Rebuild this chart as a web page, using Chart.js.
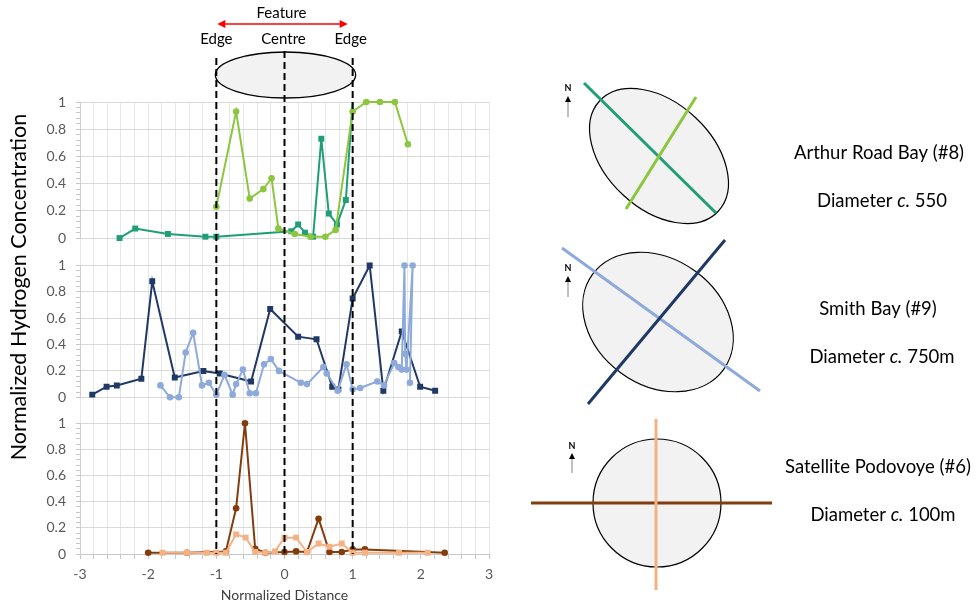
<!DOCTYPE html>
<html>
<head>
<meta charset="utf-8">
<script src="https://cdn.jsdelivr.net/npm/chart.js@4.4.0/dist/chart.umd.min.js"></script>
<style>
  html, body { margin: 0; padding: 0; background: #fff; }
  #wrap { position: relative; width: 980px; height: 605px; }
</style>
</head>
<body>
<div id="wrap"><canvas id="chart"></canvas></div>
<script>
// ---- data (normalized distance / normalized H2) ----
// Arthur Road Bay (#8)
const arthurDarkX  = [-2.42, -2.19, -1.71, -1.16, -1.0, 0.10, 0.20, 0.30, 0.42, 0.54, 0.65, 0.77, 0.90, 1.0];
const arthurDarkY  = [0.00, 0.07, 0.03, 0.01, 0.01, 0.05, 0.10, 0.04, 0.01, 0.73, 0.18, 0.10, 0.28, 1.0];
const arthurLightX = [-1.0, -0.71, -0.51, -0.31, -0.19, -0.09, 0.15, 0.38, 0.60, 0.75, 1.0, 1.2, 1.4, 1.62, 1.81];
const arthurLightY = [0.23, 0.93, 0.29, 0.36, 0.44, 0.07, 0.03, 0.01, 0.01, 0.06, 0.93, 1.0, 1.0, 1.0, 0.69];

// Smith Bay (#9)
const smithDarkX  = [-2.82, -2.61, -2.46, -2.10, -1.94, -1.61, -1.19, -0.95, -0.49, -0.21, 0.20, 0.47, 0.70, 0.79, 1.0, 1.25, 1.45, 1.72, 1.99, 2.21];
const smithDarkY  = [0.02, 0.08, 0.09, 0.14, 0.88, 0.15, 0.20, 0.18, 0.12, 0.67, 0.46, 0.44, 0.08, 0.06, 0.75, 1.0, 0.05, 0.50, 0.08, 0.05];
const smithLightX = [-1.82, -1.68, -1.55, -1.45, -1.34, -1.21, -1.11, -1.0, -0.88, -0.76, -0.71, -0.61, -0.51, -0.42, -0.30, -0.20, -0.08,
                     0.24, 0.33, 0.57, 0.62, 0.78, 0.91, 1.0, 1.11, 1.36, 1.46, 1.61, 1.67, 1.72, 1.76, 1.77, 1.79, 1.88, 1.84];
const smithLightY = [0.09, 0.0, 0.0, 0.34, 0.49, 0.09, 0.11, 0.02, 0.17, 0.02, 0.10, 0.21, 0.03, 0.03, 0.25, 0.29, 0.20,
                     0.11, 0.10, 0.23, 0.18, 0.05, 0.25, 0.06, 0.07, 0.12, 0.09, 0.26, 0.23, 0.21, 1.0, 0.33, 0.21, 1.0, 0.11];

// Satellite Podovoye (#6)
const podDarkX  = [-2.0, -1.43, -0.86, -0.71, -0.58, -0.43, -0.28, 0.0, 0.17, 0.33, 0.50, 0.66, 0.84, 1.0, 1.18, 2.35];
const podDarkY  = [0.01, 0.01, 0.02, 0.35, 1.0, 0.04, 0.01, 0.015, 0.02, 0.015, 0.27, 0.015, 0.015, 0.035, 0.035, 0.01];
const podLightX = [-1.79, -1.43, -1.14, -1.0, -0.86, -0.71, -0.57, -0.43, -0.28, -0.14, 0.0, 0.17, 0.33, 0.50, 0.66, 0.84, 1.0, 1.18, 1.68, 2.1];
const podLightY = [0.01, 0.01, 0.01, 0.01, 0.01, 0.15, 0.125, 0.015, 0.01, 0.02, 0.125, 0.125, 0.015, 0.08, 0.055, 0.08, 0.01, 0.01, 0.01, 0.01];

const xTickLabels = [-3, -2, -1, 0, 1, 2, 3];
const featureMarks = [-1, 0, 1];   // edge, centre, edge

const FONT = 'Lato, "Open Sans", sans-serif';
const GREY = '#595959';

function pts(xs, ys){ return xs.map((x, i) => ({ x, y: ys[i] })); }

function series(label, xs, ys, color, style, axis, extra){
  return Object.assign({
    label,
    data: pts(xs, ys),
    yAxisID: axis,
    showLine: true,
    borderColor: color,
    backgroundColor: color,
    borderWidth: 2,
    pointStyle: style,
    pointRadius: style === 'rect' ? 4.2 : 3.3,
    pointBorderWidth: 0,
    clip: 6
  }, extra || {});
}

function isMajor(v){ return Math.abs(v * 5 - Math.round(v * 5)) < 1e-6; }

function panelAxis(weight, stackWeight){
  return {
    type: 'linear', position: 'left', stack: 'panels', stackWeight, weight,
    min: 0, max: 1,
    ticks: {
      stepSize: 0.04, autoSkip: false, color: GREY, padding: 10,
      font: { size: 14, family: FONT },
      callback: v => isMajor(v) ? String(Math.round(v * 10) / 10) : ''
    },
    grid: {
      color: c => (c.tick && isMajor(c.tick.value)) ? '#d9d9d9' : 'rgba(0,0,0,0)',
      tickColor: '#c8c8c8', tickLength: 4, lineWidth: 1
    },
    border: { color: '#d0d0d0' },
    afterFit: s => { s.width = 80; }
  };
}

function gapAxis(weight, stackWeight){
  return {
    type: 'linear', position: 'left', stack: 'panels', stackWeight, weight,
    min: 0, max: 1,
    ticks: { display: false },
    grid: { display: false, drawTicks: false },
    border: { display: false },
    afterFit: s => { s.width = 80; }
  };
}

function richText(ctx, parts, cx, cy, size){
  let total = 0;
  const widths = parts.map(([t, it]) => {
    ctx.font = (it ? 'italic ' : '') + size + 'px ' + FONT;
    const w = ctx.measureText(t).width; total += w; return w;
  });
  let x = cx - total / 2;
  ctx.textAlign = 'left';
  parts.forEach(([t, it], i) => {
    ctx.font = (it ? 'italic ' : '') + size + 'px ' + FONT;
    ctx.fillText(t, x, cy); x += widths[i];
  });
}

function northArrow(ctx, x, yN, yTop, yBase){
  ctx.fillStyle = '#000';
  ctx.font = 'bold 9px ' + FONT;
  ctx.textAlign = 'center';
  ctx.fillText('N', x, yN);
  ctx.strokeStyle = '#808080'; ctx.lineWidth = 1;
  ctx.beginPath(); ctx.moveTo(x, yBase); ctx.lineTo(x, yTop + 4); ctx.stroke();
  ctx.fillStyle = '#000';
  ctx.beginPath(); ctx.moveTo(x, yTop); ctx.lineTo(x - 3, yTop + 6); ctx.lineTo(x + 3, yTop + 6); ctx.closePath(); ctx.fill();
}

function seg(ctx, color, x1, y1, x2, y2){
  ctx.strokeStyle = color; ctx.lineWidth = 3;
  ctx.beginPath(); ctx.moveTo(x1, y1); ctx.lineTo(x2, y2); ctx.stroke();
}

function shape(ctx, cx, cy, a, b, deg){
  ctx.beginPath();
  ctx.ellipse(cx, cy, a, b, deg * Math.PI / 180, 0, Math.PI * 2);
  ctx.fillStyle = '#f2f2f2'; ctx.fill();
  ctx.strokeStyle = '#000'; ctx.lineWidth = 1.2; ctx.stroke();
}

const overlay = {
  id: 'overlay',
  afterDraw(chart){
    const ctx = chart.ctx;
    const xs = chart.scales.x;
    const bottom = chart.chartArea.bottom;
    const [xl, xc, xr] = featureMarks.map(v => xs.getPixelForValue(v));
    ctx.save();
    ctx.textBaseline = 'middle';

    // feature ellipse + dashed guides
    ctx.beginPath();
    ctx.ellipse((xl + xr) / 2 + 1, 75, (xr - xl) / 2 + 2, 23, 0, 0, Math.PI * 2);
    ctx.fillStyle = '#f2f2f2'; ctx.fill();
    ctx.strokeStyle = '#000'; ctx.lineWidth = 1.3; ctx.stroke();

    ctx.setLineDash([7, 4]); ctx.lineWidth = 2; ctx.strokeStyle = '#000';
    [[xl, 58], [xc, 51], [xr, 58]].forEach(([x, y0]) => {
      ctx.beginPath(); ctx.moveTo(x, y0); ctx.lineTo(x, bottom); ctx.stroke();
    });
    ctx.setLineDash([]);

    // labels above
    ctx.fillStyle = '#000'; ctx.textAlign = 'center';
    ctx.font = '15px ' + FONT;
    ctx.fillText('Feature', (xl + xr) / 2 - 3, 13);
    ctx.fillText('Edge', xl, 39);
    ctx.fillText('Centre', xc - 1, 39);
    ctx.fillText('Edge', xr - 2, 39);

    // red double arrow
    const ay = 24, a1 = xl + 1, a2 = xr - 5;
    ctx.strokeStyle = '#ff0000'; ctx.fillStyle = '#ff0000'; ctx.lineWidth = 1.5;
    ctx.beginPath(); ctx.moveTo(a1 + 5, ay); ctx.lineTo(a2 - 5, ay); ctx.stroke();
    ctx.beginPath(); ctx.moveTo(a1, ay); ctx.lineTo(a1 + 8, ay - 4); ctx.lineTo(a1 + 8, ay + 4); ctx.closePath(); ctx.fill();
    ctx.beginPath(); ctx.moveTo(a2, ay); ctx.lineTo(a2 - 8, ay - 4); ctx.lineTo(a2 - 8, ay + 4); ctx.closePath(); ctx.fill();

    // y title
    ctx.save();
    ctx.translate(19, 287); ctx.rotate(-Math.PI / 2);
    ctx.fillStyle = '#000'; ctx.font = '21.5px ' + FONT; ctx.textAlign = 'center';
    ctx.fillText('Normalized Hydrogen Concentration', 0, 0);
    ctx.restore();

    // site sketches
    shape(ctx, 659, 156, 81, 53, 43);
    seg(ctx, '#1f9e77', 584, 83, 716, 213);
    seg(ctx, '#8cc63f', 696, 97, 626, 209);
    northArrow(ctx, 568, 88, 96, 117);

    shape(ctx, 658, 322, 81, 63, 36);
    seg(ctx, '#8eaadb', 562, 248, 760, 391);
    seg(ctx, '#203864', 725, 240, 588, 404);
    northArrow(ctx, 568, 268, 276, 297);

    shape(ctx, 657, 503, 64, 64, 0);
    seg(ctx, '#843c0c', 531, 503, 772, 503);
    seg(ctx, '#f4b183', 656, 419, 656, 590);
    northArrow(ctx, 572, 446, 453, 473);

    const fs = 18.5;
    ctx.fillStyle = '#000';
    ctx.font = fs + 'px ' + FONT; ctx.textAlign = 'center';
    ctx.fillText('Arthur Road Bay (#8)', 879, 153);
    richText(ctx, [['Diameter ', false], ['c.', true], [' 550', false]], 882, 201, fs);
    ctx.font = fs + 'px ' + FONT; ctx.textAlign = 'center';
    ctx.fillText('Smith Bay (#9)', 878, 309);
    richText(ctx, [['Diameter ', false], ['c.', true], [' 750m', false]], 882, 357, fs);
    ctx.font = fs + 'px ' + FONT; ctx.textAlign = 'center';
    ctx.fillText('Satellite Podovoye (#6)', 878, 467);
    richText(ctx, [['Diameter ', false], ['c.', true], [' 100m', false]], 883, 515, fs);

    ctx.restore();
  }
};

Chart.defaults.font.family = FONT;

new Chart(document.getElementById('chart'), {
  type: 'scatter',
  data: {
    datasets: [
      series('Arthur Road Bay A', arthurLightX, arthurLightY, '#8cc63f', 'circle', 'p1'),
      series('Arthur Road Bay B', arthurDarkX, arthurDarkY, '#1f9e77', 'rect', 'p1',
             { pointRadius: c => c.dataIndex === arthurDarkX.length - 1 ? 0 : 4.2 }),
      series('Smith Bay A', smithLightX, smithLightY, '#8eaadb', 'circle', 'p2'),
      series('Smith Bay B', smithDarkX, smithDarkY, '#203864', 'rect', 'p2'),
      series('Podovoye A', podLightX, podLightY, '#f4b183', 'rect', 'p3'),
      series('Podovoye B', podDarkX, podDarkY, '#843c0c', 'circle', 'p3')
    ]
  },
  options: {
    responsive: true,
    maintainAspectRatio: false,
    animation: false,
    layout: { padding: { top: 102, right: 491, left: 0, bottom: 0 } },
    plugins: { legend: { display: false }, tooltip: { enabled: false } },
    scales: {
      x: {
        type: 'linear', position: 'bottom', min: -3, max: 3,
        ticks: {
          stepSize: 0.2, autoSkip: false, maxRotation: 0, color: GREY, padding: 7,
          font: { size: 14, family: FONT },
          callback: v => xTickLabels.find(t => Math.abs(t - v) < 1e-6) !== undefined ? String(Math.round(v)) : ''
        },
        grid: { color: '#e6e6e6', tickColor: '#c8c8c8', tickLength: 5 },
        border: { color: '#c8c8c8' },
        title: { display: true, text: 'Normalized Distance', color: '#404040',
                 font: { size: 14, family: FONT }, padding: { top: 0, bottom: 1 } },
        afterFit: s => { s.height = 51; }
      },
      p1: panelAxis(5, 136.3),
      g1: gapAxis(4, 27.5),
      p2: panelAxis(3, 132),
      g2: gapAxis(2, 26),
      p3: panelAxis(1, 131)
    }
  },
  plugins: [overlay]
});
</script>
</body>
</html>
